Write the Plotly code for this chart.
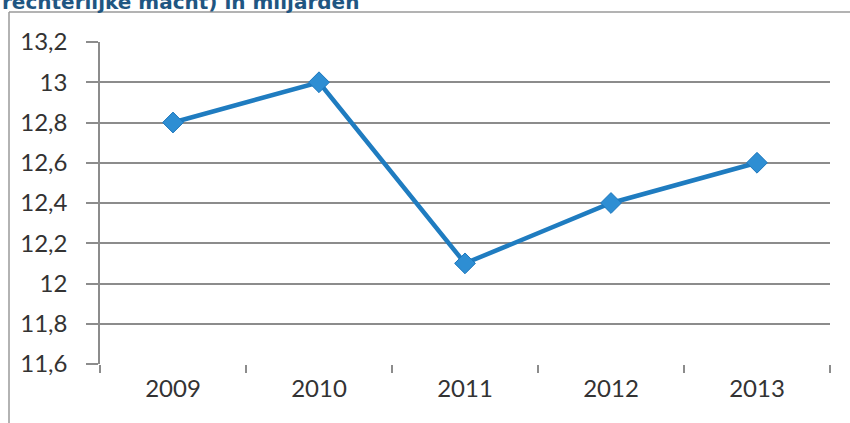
import plotly.graph_objects as go

years = ["2009", "2010", "2011", "2012", "2013"]
values = [12.8, 13.0, 12.1, 12.4, 12.6]
y_ticks = [11.6, 11.8, 12.0, 12.2, 12.4, 12.6, 12.8, 13.0, 13.2]
y_tick_labels = ["11,6", "11,8", "12", "12,2", "12,4", "12,6", "12,8", "13", "13,2"]
title_text = "rechterlijke macht) in miljarden"

W, H = 850, 423
L, R, T, B = 100, 20, 42, 59
pw, ph = W - L - R, H - T - B

def px_x(x):
    return (x - L) / pw

def px_y(y):
    return (H - B - y) / ph

fig = go.Figure()
fig.add_trace(go.Scatter(
    x=years, y=values, mode="lines+markers",
    line=dict(color="#1f7cc0", width=4.5),
    marker=dict(symbol="diamond", size=16, color="#2e8ed3",
                line=dict(color="#1f78bd", width=1)),
    showlegend=False, hoverinfo="skip",
))

fig.update_layout(
    width=W, height=H,
    margin=dict(l=L, r=R, t=T, b=B, autoexpand=False),
    paper_bgcolor="white", plot_bgcolor="white",
    font=dict(family="Lato, Liberation Sans, Arial, sans-serif", size=24, color="#333333"),
    xaxis=dict(
        type="category", range=[-0.5, 4.5],
        showgrid=False, showline=False, zeroline=False,
        ticks="outside", tickson="boundaries", ticklen=8, tickcolor="#8c8c8c",
        tickwidth=1.5, ticklabelstandoff=8,
        tickfont=dict(size=24, color="#333333"),
    ),
    yaxis=dict(
        range=[11.6, 13.2], tickvals=y_ticks, ticktext=y_tick_labels,
        showgrid=True, gridcolor="#8c8c8c", gridwidth=1.5,
        showline=True, linecolor="#8c8c8c", linewidth=1.5,
        zeroline=False, ticks="outside", ticklen=12, tickcolor="#8c8c8c",
        tickwidth=1.5, ticklabelstandoff=14,
        tickfont=dict(size=24, color="#333333"),
    ),
)

# outer chart frame (top and left edges visible in the scan)
fig.add_shape(type="line", xref="paper", yref="paper",
              x0=px_x(9), x1=px_x(W), y0=px_y(12), y1=px_y(12),
              line=dict(color="#9a9a9a", width=1.5))
fig.add_shape(type="line", xref="paper", yref="paper",
              x0=px_x(9), x1=px_x(9), y0=px_y(12), y1=px_y(H + 5),
              line=dict(color="#9a9a9a", width=1.5))

fig.add_annotation(
    text="<b>" + title_text + "</b>", xref="paper", yref="paper",
    x=px_x(1), y=px_y(15), xanchor="left", yanchor="bottom", borderpad=0,
    showarrow=False, font=dict(family="DejaVu Sans, Verdana, sans-serif", size=20, color="#1f5682"),
)

fig.write_html("out.html", config={"displayModeBar": False},
               post_script="document.body.style.margin='0';document.body.style.overflow='hidden';")
